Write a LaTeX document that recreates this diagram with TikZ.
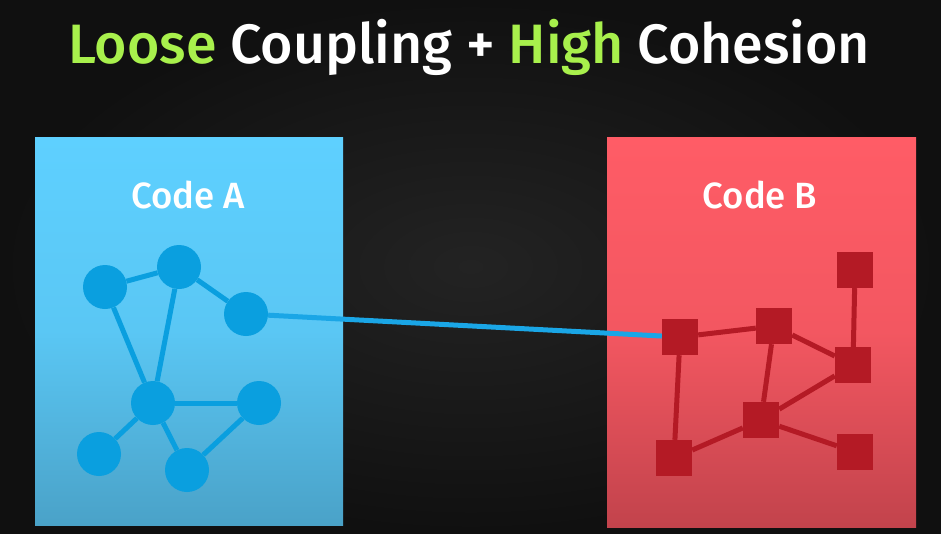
\documentclass[tikz,border=0pt]{standalone}
\usepackage{fontspec}
\setmainfont{Fira Sans}[UprightFont={* Medium}]
\definecolor{bgdark}{HTML}{101010}
\definecolor{bgmid}{HTML}{232323}
\definecolor{keygreen}{HTML}{A8F04C}
\definecolor{atop}{HTML}{5ED0FF}
\definecolor{abot}{HTML}{4AA2C8}
\definecolor{anode}{HTML}{0A9FDF}
\definecolor{btop}{HTML}{FF5C66}
\definecolor{bbot}{HTML}{C2434C}
\definecolor{bnode}{HTML}{B41A25}
\definecolor{linkblue}{HTML}{1AA6E6}
\tikzset{
  cnode/.style={circle,fill=anode,minimum size=44pt,inner sep=0pt},
  snode/.style={rectangle,fill=bnode,minimum size=36pt,inner sep=0pt},
  aedge/.style={draw=anode,line width=5pt},
  bedge/.style={draw=bnode,line width=5pt},
  boxlabel/.style={text=white,font=\fontsize{36.5}{40}\selectfont}
}
\begin{document}
\begin{tikzpicture}[x=1pt,y=-1pt]
    \useasboundingbox (0,0) rectangle (941,533);
    \shade[inner color=bgmid,outer color=bgdark] (0,0) rectangle (941,533);

    \node[text=white,font=\fontsize{55.5}{60}\selectfont] (title) at (469,47)
        {\textcolor{keygreen}{Loose} Coupling + \textcolor{keygreen}{High} Cohesion};

    \shade[top color=atop,bottom color=abot,middle color=atop!80!abot] (35,137) rectangle (343,525);
    \node[boxlabel] (labela) at (188,195) {Code A};

    \shade[top color=btop,bottom color=bbot,middle color=btop!80!bbot] (607,137) rectangle (916,527);
    \node[boxlabel] (labelb) at (760,195) {Code B};

    % code A: circles
    \node[cnode] (a1) at (105,287) {};
    \node[cnode] (a2) at (179,267) {};
    \node[cnode] (a3) at (246,314) {};
    \node[cnode] (a4) at (153,403) {};
    \node[cnode] (a5) at (259,403) {};
    \node[cnode] (a6) at (99,454) {};
    \node[cnode] (a7) at (187,470) {};

    \draw[aedge] (a1) -- (a2);
    \draw[aedge] (a2) -- (a3);
    \draw[aedge] (a1) -- (a4);
    \draw[aedge] (a2) -- (a4);
    \draw[aedge] (a4) -- (a5);
    \draw[aedge] (a4) -- (a6);
    \draw[aedge] (a4) -- (a7);
    \draw[aedge] (a7) -- (a5);

    % code B: squares
    \node[snode] (b1) at (680,337) {};
    \node[snode] (b2) at (774,326) {};
    \node[snode] (b3) at (855,270) {};
    \node[snode] (b4) at (853,365) {};
    \node[snode] (b5) at (761,420) {};
    \node[snode] (b6) at (674,458) {};
    \node[snode] (b7) at (855,452) {};

    \draw[bedge] (b1) -- (b2);
    \draw[bedge] (b1) -- (b6);
    \draw[bedge] (b2) -- (b4);
    \draw[bedge] (b2) -- (b5);
    \draw[bedge] (b3) -- (b4);
    \draw[bedge] (b4) -- (b5);
    \draw[bedge] (b5) -- (b6);
    \draw[bedge] (b5) -- (b7);

    % the one link between A and B
    \draw[draw=linkblue,line width=5pt] (a3) -- (b1);

    \end{tikzpicture}
\end{document}
